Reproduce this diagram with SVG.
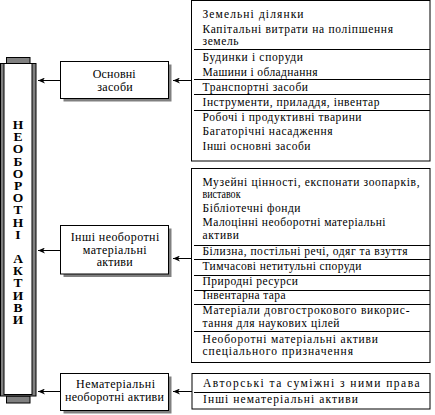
<svg xmlns="http://www.w3.org/2000/svg" width="435" height="415" viewBox="0 0 435 415">
<style>
.bg{fill:#ffffff}
.box{fill:#ffffff;stroke:#000000;stroke-width:1}
.shadow{fill:#808080}
.gray{fill:#808080;stroke:#000000;stroke-width:1}
.sep{stroke:#000000;stroke-width:1}
.conn{stroke:#000000;stroke-width:1;fill:none;marker-end:url(#ah)}
.t{font-family:"Liberation Serif","Times New Roman",serif;font-size:11.5px;fill:#000000}
.bt{font-family:"Liberation Serif","Times New Roman",serif;font-size:12px;fill:#000000}
.ct{font-family:"Liberation Serif","Times New Roman",serif;font-size:13.5px;font-weight:bold;fill:#000000;writing-mode:vertical-rl;text-orientation:upright}
</style>
<defs>
<marker id="ah" viewBox="0 0 7 6" markerWidth="7" markerHeight="6" refX="7" refY="3" orient="auto" markerUnits="userSpaceOnUse">
<path d="M7,3 L0,0 L2,3 L0,6 z" fill="#000000"/>
</marker>
</defs>
<rect class="bg" x="0" y="0" width="435" height="415"/>

<g id="column">
<rect class="gray" x="6.5" y="57.5" width="23.5" height="6"/>
<rect class="gray" x="6.5" y="396" width="23.5" height="7"/>
<rect class="gray" x="0.5" y="63.5" width="35.5" height="332.5"/>
<rect class="box" x="4" y="63.5" width="28" height="331"/>
<text class="ct" x="18" y="117" textLength="210" lengthAdjust="spacing">НЕОБОРОТНІ АКТИВИ</text>
</g>

<g id="box-osnovni">
<rect class="shadow" x="63.5" y="64.5" width="108" height="37"/>
<rect class="box" x="60.5" y="61.5" width="108" height="37"/>
<text class="bt" x="92.7" y="77.7" textLength="43" lengthAdjust="spacing">Основні</text>
<text class="bt" x="97.3" y="90.6" textLength="35.4" lengthAdjust="spacing">засоби</text>
</g>

<g id="box-inshi">
<rect class="shadow" x="63.5" y="228.5" width="108" height="48.5"/>
<rect class="box" x="60.5" y="225.5" width="108" height="48.5"/>
<text class="bt" x="70.7" y="240.8" textLength="88.6" lengthAdjust="spacing">Інші необоротні</text>
<text class="bt" x="82.7" y="253.6" textLength="64" lengthAdjust="spacing">матеріальні</text>
<text class="bt" x="96.7" y="266.4" textLength="36" lengthAdjust="spacing">активи</text>
</g>

<g id="box-nemat">
<rect class="shadow" x="63.5" y="376.5" width="108" height="37"/>
<rect class="box" x="60.5" y="373.5" width="108" height="37"/>
<text class="bt" x="76" y="388.2" textLength="79" lengthAdjust="spacing">Нематеріальні</text>
<text class="bt" x="65" y="401.1" textLength="99" lengthAdjust="spacing">необоротні активи</text>
</g>

<g id="list-osnovni">
<rect class="box" x="191.5" y="0.5" width="238.5" height="160.5"/>
<line class="sep" x1="194" y1="49.5" x2="430" y2="49.5"/>
<line class="sep" x1="194" y1="79.5" x2="430" y2="79.5"/>
<line class="sep" x1="194" y1="94.5" x2="430" y2="94.5"/>
<line class="sep" x1="194" y1="110.5" x2="430" y2="110.5"/>
<text class="t" x="202.5" y="18.3" textLength="101" lengthAdjust="spacing">Земельні ділянки</text>
<text class="t" x="202.5" y="32.7" textLength="190.5" lengthAdjust="spacing">Капітальні витрати на поліпшення</text>
<text class="t" x="202.5" y="45" textLength="36" lengthAdjust="spacing">земель</text>
<text class="t" x="202.5" y="61" textLength="100.5" lengthAdjust="spacing">Будинки і споруди</text>
<text class="t" x="202.5" y="75.5" textLength="115" lengthAdjust="spacing">Машини і обладнання</text>
<text class="t" x="202.5" y="90.7" textLength="105.5" lengthAdjust="spacing">Транспортні засоби</text>
<text class="t" x="202.5" y="106" textLength="177" lengthAdjust="spacing">Інструменти, приладдя, інвентар</text>
<text class="t" x="202.5" y="120.7" textLength="159" lengthAdjust="spacing">Робочі і продуктивні тварини</text>
<text class="t" x="202.5" y="135.3" textLength="130" lengthAdjust="spacing">Багаторічні насадження</text>
<text class="t" x="202.5" y="150.3" textLength="108" lengthAdjust="spacing">Інші основні засоби</text>
</g>

<g id="list-inshi">
<rect class="box" x="191.5" y="168.5" width="238.5" height="194"/>
<line class="sep" x1="194" y1="245.5" x2="430" y2="245.5"/>
<line class="sep" x1="194" y1="259.5" x2="430" y2="259.5"/>
<line class="sep" x1="194" y1="275.5" x2="430" y2="275.5"/>
<line class="sep" x1="194" y1="290.5" x2="430" y2="290.5"/>
<line class="sep" x1="194" y1="304.5" x2="430" y2="304.5"/>
<line class="sep" x1="194" y1="331.5" x2="430" y2="331.5"/>
<text class="t" x="202.5" y="186" textLength="217" lengthAdjust="spacing">Музейні цінності, експонати зоопарків,</text>
<text class="t" x="202.5" y="197.7" textLength="38" lengthAdjust="spacingAndGlyphs">виставок</text>
<text class="t" x="202.5" y="211.7" textLength="98" lengthAdjust="spacing">Бібліотечні фонди</text>
<text class="t" x="202.5" y="226" textLength="183" lengthAdjust="spacing">Малоцінні необоротні матеріальні</text>
<text class="t" x="202.5" y="238.7" textLength="36.5" lengthAdjust="spacing">активи</text>
<text class="t" x="202.5" y="254.6" textLength="205" lengthAdjust="spacing">Білизна, постільні речі, одяг та взуття</text>
<text class="t" x="202.5" y="269.5" textLength="159" lengthAdjust="spacing">Тимчасові нетитульні споруди</text>
<text class="t" x="202.5" y="284.5" textLength="95.5" lengthAdjust="spacing">Природні ресурси</text>
<text class="t" x="202.5" y="298.7" textLength="83" lengthAdjust="spacing">Інвентарна тара</text>
<text class="t" x="202.5" y="314.2" textLength="207" lengthAdjust="spacing">Матеріали довгострокового викорис-</text>
<text class="t" x="202.5" y="326.7" textLength="137" lengthAdjust="spacing">тання для наукових цілей</text>
<text class="t" x="202.5" y="342.7" textLength="175.5" lengthAdjust="spacing">Необоротні матеріальні активи</text>
<text class="t" x="202.5" y="355.2" textLength="150.5" lengthAdjust="spacing">спеціального призначення</text>
</g>

<g id="list-nemat">
<rect class="box" x="192" y="373.5" width="238" height="35.5"/>
<line class="sep" x1="194" y1="392.5" x2="430" y2="392.5"/>
<text class="t" x="203" y="387.3" textLength="216.5" lengthAdjust="spacing">Авторські та суміжні з ними права</text>
<text class="t" x="203" y="403.3" textLength="155" lengthAdjust="spacing">Інші нематеріальні активи</text>
</g>

<g id="connectors">
<path class="conn" d="M191.5,80.5 H173"/>
<path class="conn" d="M60.5,80.5 H38"/>
<path class="conn" d="M191.5,258.5 H173"/>
<path class="conn" d="M60.5,250.5 H38"/>
<path class="conn" d="M192,391.5 H173"/>
<path class="conn" d="M60.5,391.5 H38"/>
</g>
</svg>
